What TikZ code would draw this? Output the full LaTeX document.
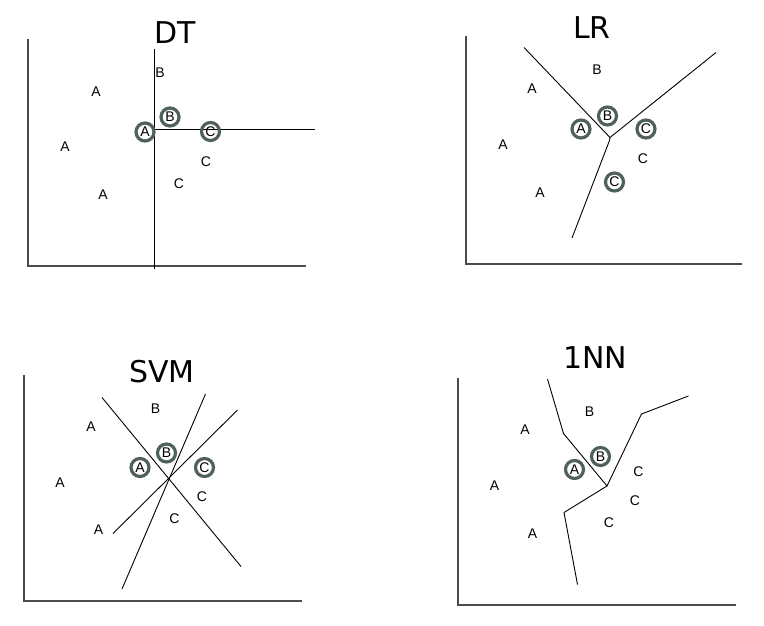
\documentclass[tikz,border=0pt]{standalone}
\usepackage{fontspec}
\setmainfont{Liberation Sans}
\newfontfamily\titlefont{DejaVu Sans}
\definecolor{ringcol}{RGB}{80,96,91}
\definecolor{axiscol}{RGB}{75,75,75}
\begin{document}
\begin{tikzpicture}[x=1pt,y=-1pt,
  lbl/.style={font=\fontsize{14}{14}\selectfont, inner sep=0pt, text=black},
  ring/.style={lbl, circle, draw=ringcol, line width=3.2pt, minimum size=18pt},
  ttl/.style={font=\titlefont\fontsize{30}{30}\selectfont, inner sep=0pt},
  axis/.style={draw=axiscol, line width=2pt},
  bound/.style={draw=black, line width=0.9pt, line join=miter}]
\useasboundingbox[fill=white] (0,0) rectangle (764,626);

% ---------- DT ----------
\node[ttl] (tdt) at (175,33) {DT};
\coordinate (dtO) at (28,266); \coordinate (dtY) at (28,39); \coordinate (dtX) at (306,266);
\draw[axis] (dtY) -- (dtO) -- (dtX);
\coordinate (dtv1) at (154,49); \coordinate (dtv2) at (154,269);
\coordinate (dth1) at (154,129); \coordinate (dth2) at (315,129);
\draw[bound] (dtv1) -- (dtv2);
\draw[bound] (dth1) -- (dth2);
\node[lbl] (dtb1) at (160,73) {B};
\node[lbl] (dta1) at (96,92) {A};
\node[lbl] (dta2) at (65,147) {A};
\node[lbl] (dta3) at (103,195) {A};
\node[lbl] (dtc1) at (206,162) {C};
\node[lbl] (dtc2) at (179,184) {C};
\node[ring] (dtra) at (145,132) {A};
\node[ring] (dtrb) at (170,117) {B};
\node[ring] (dtrc) at (210.5,131.5) {C};

% ---------- LR ----------
\node[ttl] (tlr) at (592,28) {LR};
\coordinate (lrO) at (466,264); \coordinate (lrY) at (466,36); \coordinate (lrX) at (742,264);
\draw[axis] (lrY) -- (lrO) -- (lrX);
\coordinate (lrj) at (610,137.5);
\coordinate (lr1) at (524,47.5); \coordinate (lr2) at (716,52.5);
\coordinate (lrk) at (609.5,140.5); \coordinate (lr3) at (572,238);
\draw[bound] (lr1) -- (lrj) -- (lr2);
\draw[bound] (lrj) -- (lrk) -- (lr3);
\node[lbl] (lrb1) at (597,70) {B};
\node[lbl] (lra1) at (532,89) {A};
\node[lbl] (lra2) at (503,145) {A};
\node[lbl] (lra3) at (540,193) {A};
\node[lbl] (lrc1) at (643,159) {C};
\node[ring] (lrra) at (581,129) {A};
\node[ring] (lrrb) at (607.5,116) {B};
\node[ring] (lrrc) at (646,129) {C};
\node[ring] (lrrc2) at (614.5,182) {C};

% ---------- SVM ----------
\node[ttl] (tsvm) at (162,372) {SVM};
\coordinate (svO) at (24,601); \coordinate (svY) at (24,375); \coordinate (svX) at (302,601);
\draw[axis] (svY) -- (svO) -- (svX);
\coordinate (sv1a) at (102,397.5); \coordinate (sv1b) at (241,566.5);
\coordinate (sv2a) at (205.5,394); \coordinate (sv2b) at (122,589);
\coordinate (sv3a) at (237.5,410); \coordinate (sv3b) at (113,533.5);
\draw[bound] (sv1a) -- (sv1b);
\draw[bound] (sv2a) -- (sv2b);
\draw[bound] (sv3a) -- (sv3b);
\node[lbl] (svb1) at (155.5,408.5) {B};
\node[lbl] (sva1) at (91,427) {A};
\node[lbl] (sva2) at (60,482.5) {A};
\node[lbl] (sva3) at (98.5,530) {A};
\node[lbl] (svc1) at (202,497) {C};
\node[lbl] (svc2) at (174.5,519) {C};
\node[ring] (svra) at (140,467.5) {A};
\node[ring] (svrb) at (166.5,453) {B};
\node[ring] (svrc) at (204.5,467.5) {C};

% ---------- 1NN ----------
\node[ttl] (tnn) at (595,358) {1NN};
\coordinate (nnO) at (458,605); \coordinate (nnY) at (458,378); \coordinate (nnX) at (736,605);
\draw[axis] (nnY) -- (nnO) -- (nnX);
\coordinate (nnj) at (607,486);
\coordinate (nn1) at (547.5,379); \coordinate (nn2) at (563.5,433.5);
\coordinate (nn3) at (564,512.5); \coordinate (nn4) at (577.5,584.5);
\coordinate (nn5) at (641.5,414); \coordinate (nn6) at (688.5,396);
\draw[bound] (nn1) -- (nn2) -- (nnj) -- (nn3) -- (nn4);
\draw[bound] (nnj) -- (nn5) -- (nn6);
\node[lbl] (nnb1) at (589.5,411.5) {B};
\node[lbl] (nna1) at (525,430) {A};
\node[lbl] (nna2) at (494.5,486) {A};
\node[lbl] (nna3) at (532.5,533.5) {A};
\node[lbl] (nnc1) at (638.5,472) {C};
\node[lbl] (nnc2) at (635,501) {C};
\node[lbl] (nnc3) at (609,523) {C};
\node[ring] (nnra) at (574.5,469.5) {A};
\node[ring] (nnrb) at (600.5,456.5) {B};
\end{tikzpicture}
\end{document}
